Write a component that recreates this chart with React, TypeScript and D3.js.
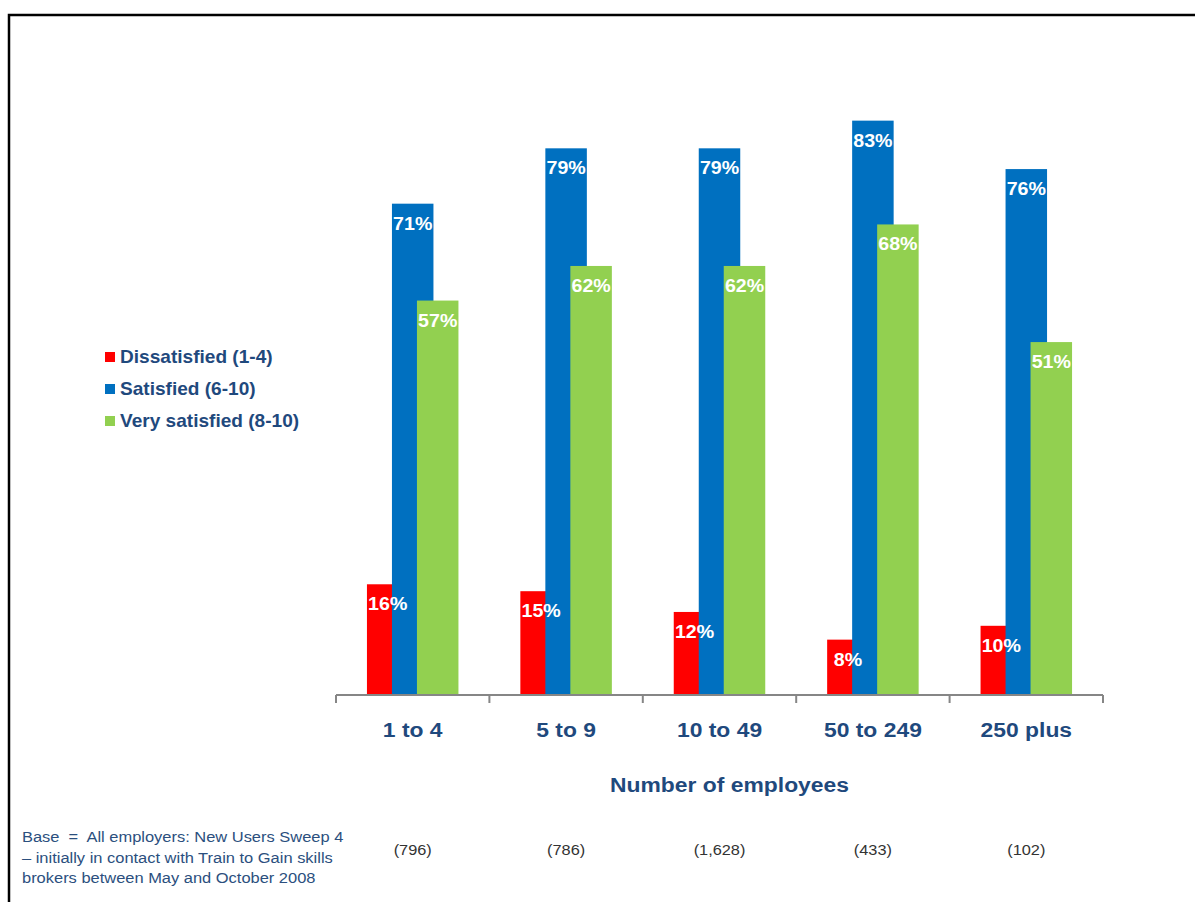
import React from "react";
import * as d3 from "d3";

const categories = ["1 to 4", "5 to 9", "10 to 49", "50 to 249", "250 plus"];
const dissatisfied = [16, 15, 12, 8, 10];
const satisfied = [71, 79, 79, 83, 76];
const verySatisfied = [57, 62, 62, 68, 51];
const baseCounts = ["(796)", "(786)", "(1,628)", "(433)", "(102)"];
const seriesNames = ["Dissatisfied (1-4)", "Satisfied (6-10)", "Very satisfied (8-10)"];
const seriesColors = ["#FF0000", "#0070C0", "#92D050"];
const baseNote = [
  "Base  =  All employers: New Users Sweep 4",
  "– initially in contact with Train to Gain skills",
  "brokers between May and October 2008",
];

const FONT = "'Liberation Sans', Arial, Helvetica, sans-serif";
const NAVY = "#1F497D";
const SX = 1.09;

function T(props: {
  x: number;
  y: number;
  size: number;
  fill: string;
  bold?: boolean;
  anchor?: "start" | "middle" | "end";
  children: React.ReactNode;
}) {
  return (
    <text
      transform={`translate(${props.x},${props.y}) scale(${SX},1)`}
      x={0}
      y={0}
      textAnchor={props.anchor || "start"}
      fill={props.fill}
      fontFamily={FONT}
      fontWeight={props.bold ? "bold" : "normal"}
      fontSize={props.size}
      style={{ whiteSpace: "pre" }}
    >
      {props.children}
    </text>
  );
}

export default function App() {
  const W = 1195;
  const H = 902;
  const axisY = 695;
  const x = d3.scaleBand<string>().domain(categories).range([336, 1103]).padding(0);
  const y = d3.scaleLinear().domain([0, 100]).range([axisY, 3]);
  const series = [dissatisfied, satisfied, verySatisfied];
  const barW = 41.5;
  const step = 25;
  const groupW = step * (series.length - 1) + barW;
  const bw = x.bandwidth();

  const bars: React.ReactNode[] = [];
  const labels: React.ReactNode[] = [];
  series.forEach((vals, si) => {
    vals.forEach((v, ci) => {
      const cx = (x(categories[ci]) as number) + bw / 2;
      const bx = cx - groupW / 2 + si * step;
      const top = y(v);
      bars.push(
        <rect key={`b${si}-${ci}`} x={bx} y={top} width={barW} height={axisY - top} fill={seriesColors[si]} />
      );
      labels.push(
        <T key={`l${si}-${ci}`} x={bx + barW / 2} y={top + 26} anchor="middle" fill="#FFFFFF" bold size={18}>
          {v}%
        </T>
      );
    });
  });

  const ticks = [...categories.map((c) => x(c) as number), 1103];

  return (
    <svg
      width={W}
      height={H}
      style={{ position: "absolute", left: 0, top: 0, display: "block" }}
      xmlns="http://www.w3.org/2000/svg"
    >
      <rect x={0} y={0} width={W} height={H} fill="#FFFFFF" />
      <rect x={9} y={15} width={1400} height={1000} fill="none" stroke="#000" strokeWidth={2.5} />

      {bars}

      <line x1={336} x2={1103} y1={axisY} y2={axisY} stroke="#868686" strokeWidth={2} />
      {ticks.map((t, i) => (
        <line key={`t${i}`} x1={t} x2={t} y1={axisY} y2={axisY + 8} stroke="#868686" strokeWidth={2} />
      ))}

      {labels}

      {categories.map((c) => (
        <T key={c} x={(x(c) as number) + bw / 2} y={737} anchor="middle" fill={NAVY} bold size={21}>
          {c}
        </T>
      ))}

      <T x={729.5} y={792} anchor="middle" fill={NAVY} bold size={21}>
        Number of employees
      </T>

      {seriesNames.map((n, i) => (
        <g key={n}>
          <rect x={105} y={352 + i * 32} width={10} height={10} fill={seriesColors[i]} />
          <T x={120} y={363 + i * 32} fill={NAVY} bold size={17.5}>
            {n}
          </T>
        </g>
      ))}

      {baseNote.map((line, i) => (
        <T key={`n${i}`} x={22} y={842 + i * 20.5} fill="#2B4F7E" size={15.1}>
          {line}
        </T>
      ))}

      {baseCounts.map((b, i) => (
        <T key={`c${i}`} x={(x(categories[i]) as number) + bw / 2} y={855} anchor="middle" fill="#333333" size={15}>
          {b}
        </T>
      ))}
    </svg>
  );
}
